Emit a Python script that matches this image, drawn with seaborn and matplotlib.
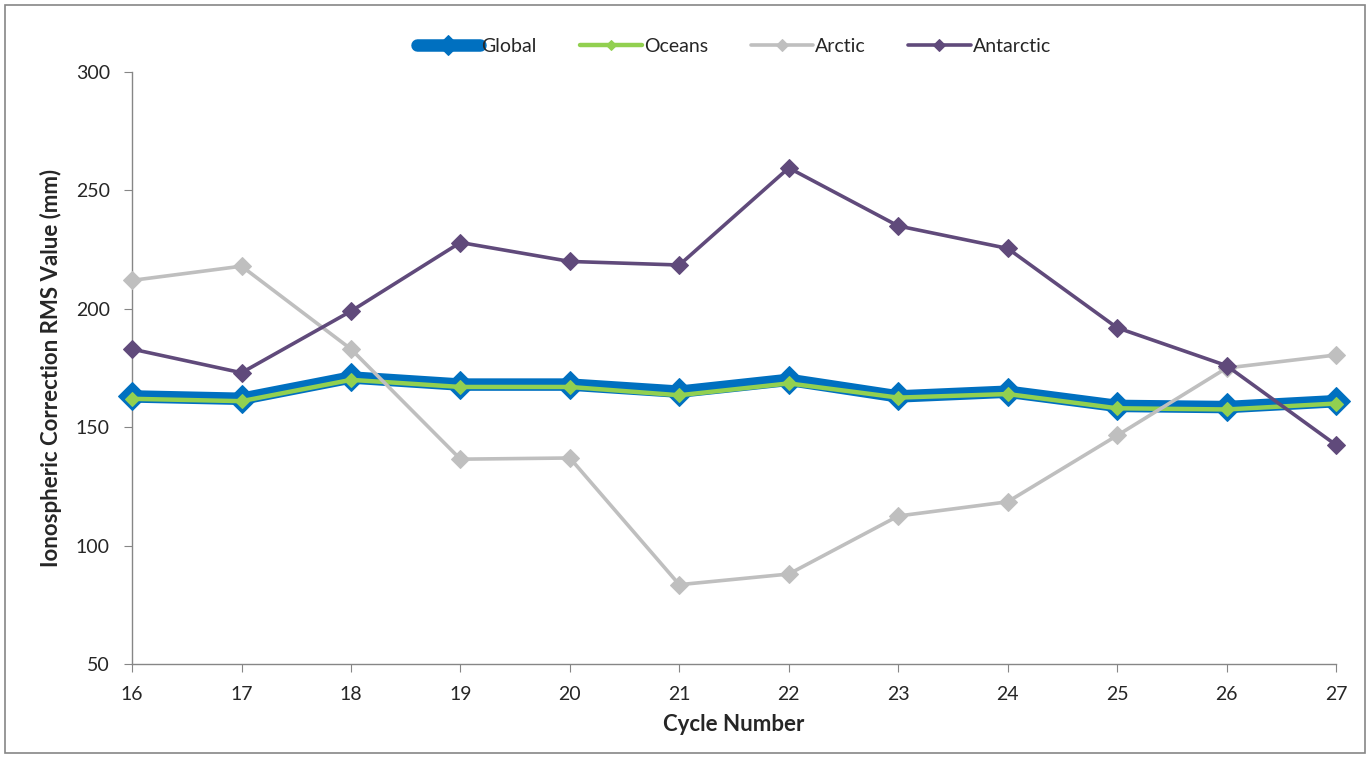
import pandas as pd
import numpy as np
import seaborn as sns
import matplotlib.pyplot as plt
from matplotlib.patches import Rectangle

cycles = [16, 17, 18, 19, 20, 21, 22, 23, 24, 25, 26, 27]
glob = [163, 162, 171, 168, 168, 165, 170, 163, 165, 159, 158.5, 161]
oceans = [162, 161, 170, 167, 167, 163.5, 168.5, 162.5, 164, 158, 157.5, 160]
arctic = [212, 218, 183, 136.5, 137, 83.5, 88, 112.5, 118.5, 146.5, 175, 180.5]
antarctic = [183, 173, 199, 228, 220, 218.5, 259.5, 235, 225.5, 192, 176, 142.5]

names = ["Global", "Oceans", "Arctic", "Antarctic"]
colors = ["#0070C0", "#92D050", "#BFBFBF", "#604A7B"]
widths = [9, 3.2, 2.6, 2.6]
msizes = [14, 7, 9, 9]

sns.set_style("white")
plt.rcParams['font.family'] = ['Lato', 'DejaVu Sans']

df = pd.DataFrame({"Cycle": cycles, "Global": glob, "Oceans": oceans,
                   "Arctic": arctic, "Antarctic": antarctic})

fig = plt.figure(figsize=(13.7, 7.58), dpi=100)
ax = fig.add_axes([0.0964, 0.124, 0.8788, 0.781])

for i, n in enumerate(names):
    sns.lineplot(ax=ax, data=df, x="Cycle", y=n, color=colors[i], linewidth=widths[i],
                 marker="D", markersize=msizes[i], markeredgecolor=colors[i],
                 label=n, zorder=3 + i, clip_on=False)

ax.set_xlim(16, 27)
ax.set_ylim(50, 300)
ax.set_xticks(cycles)
ax.set_yticks([50, 100, 150, 200, 250, 300])
ax.set_xlabel("Cycle Number", fontsize=16, fontweight="bold", labelpad=8)
ax.set_ylabel("Ionospheric Correction RMS Value (mm)", fontsize=16, fontweight="bold", labelpad=10)
ax.tick_params(axis="both", labelsize=14, direction="out", length=6, color="#868686",
               bottom=True, left=True, pad=10)
for s in ["top", "right"]:
    ax.spines[s].set_visible(False)
for s in ["left", "bottom"]:
    ax.spines[s].set_color("#868686")
    ax.spines[s].set_linewidth(1.0)

leg = ax.legend(loc="lower center", bbox_to_anchor=(0.5, 1.0), ncol=4, frameon=False,
                fontsize=14, handlelength=3.2, handletextpad=0.1, columnspacing=2.2,
                markerscale=0.7)

fig.add_artist(Rectangle((0.004, 0.006), 0.992, 0.988, transform=fig.transFigure,
                         fill=False, edgecolor="#868686", linewidth=1.2))

fig.savefig("out.png", dpi=100)
